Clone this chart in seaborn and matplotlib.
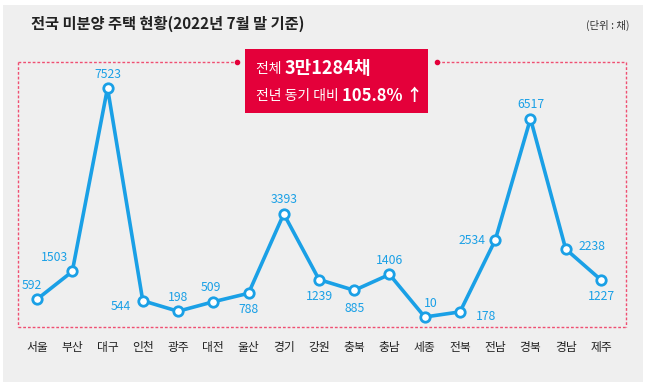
import matplotlib
matplotlib.use("Agg")
import matplotlib.pyplot as plt
import seaborn as sns
import pandas as pd
from matplotlib.patches import Rectangle
from matplotlib.lines import Line2D

# 지역별 미분양 주택 (2022년 7월 말, 단위: 채)
regions = ['서울', '부산', '대구', '인천', '광주', '대전', '울산', '경기', '강원',
           '충북', '충남', '세종', '전북', '전남', '경북', '경남', '제주']
units = [592, 1503, 7523, 544, 198, 509, 788, 3393, 1239,
         885, 1406, 10, 178, 2534, 6517, 2238, 1227]

# label offsets in points (dx, dy) relative to each marker
label_offsets = [(-4, 10), (-13, 10), (0, 10), (-16, -4), (0, 10), (-2, 10), (0, -12),
                 (0, 10), (0, -12), (0, -13), (0, 10), (4, 10), (19, -3),
                 (-17, 0), (0, 10), (19, 2), (0, -12)]

BLUE = '#1aa0e6'
RED = '#e4003a'
PINK = '#ef4f72'
BG = '#efefef'
FONT = ['Noto Sans CJK KR', 'DejaVu Sans']

sns.set_theme(style='white')
plt.rcParams['font.family'] = FONT

W, H = 650, 382
fig = plt.figure(figsize=(W / 100, H / 100), dpi=100, facecolor='white')

def fx(px):
    return px / W

def fy(py):
    return 1 - py / H

# gray panel
fig.patches.append(Rectangle((fx(3), fy(382)), fx(640), 377 / H, transform=fig.transFigure,
                             facecolor=BG, edgecolor='none', zorder=-10))

ax = fig.add_axes([fx(19.4), fy(327), fx(599.2), 264 / H])
ax.set_zorder(1)
ax.set_facecolor('none')
df = pd.DataFrame({'region': regions, 'units': units, 'idx': range(len(regions))})
sns.lineplot(data=df, x='idx', y='units', ax=ax, color=BLUE, linewidth=2.6,
             marker='o', markersize=6.8, markerfacecolor='white',
             markeredgecolor=BLUE, markeredgewidth=2.0)
ax.set_xlim(-0.5, len(regions) - 0.5)
ax.set_ylim(-318, 8343)
for s in ax.spines.values():
    s.set_visible(False)
ax.set_xlabel('')
ax.set_ylabel('')
ax.set_yticks([])
ax.set_xticks(df['idx'])
ax.set_xticklabels(regions, fontsize=8.5, color='#222222')
ax.tick_params(axis='x', length=0, pad=10)

for i, (v, (dx, dy)) in enumerate(zip(units, label_offsets)):
    ax.annotate(str(v), (i, v), xytext=(dx, dy), textcoords='offset points',
                ha='center', va='center', fontsize=8.8, color=BLUE,
                fontstretch='condensed')

# dotted frame with a gap for the red box
dash = dict(color=PINK, linewidth=1.0, linestyle=(0, (2, 1.4)), transform=fig.transFigure)
fig.lines.append(Line2D([fx(18), fx(18)], [fy(62), fy(327)], **dash))
fig.lines.append(Line2D([fx(18), fx(626)], [fy(327), fy(327)], **dash))
fig.lines.append(Line2D([fx(626), fx(626)], [fy(62), fy(327)], **dash))
fig.lines.append(Line2D([fx(18), fx(237)], [fy(62), fy(62)], **dash))
fig.lines.append(Line2D([fx(437), fx(626)], [fy(62), fy(62)], **dash))
for px in (237, 437):
    fig.lines.append(Line2D([fx(px)], [fy(62)], marker='o', markersize=3, color=RED,
                            linestyle='none', transform=fig.transFigure))

# red summary box
fig.patches.append(Rectangle((fx(245), fy(113)), fx(183), 64 / H, transform=fig.transFigure,
                             facecolor=RED, edgecolor='none', zorder=2))

fig.canvas.draw()
renderer = fig.canvas.get_renderer()

def run_text(x_px, y_px, parts):
    x = fx(x_px)
    for s, size, weight in parts:
        t = fig.text(x, fy(y_px), s, fontsize=size, fontweight=weight, color='white',
                     va='center', ha='left', family=FONT, zorder=3)
        bb = t.get_window_extent(renderer)
        x += bb.width / W

run_text(256, 69, [('전체 ', 10, 'normal'), ('3만1284채', 13, 'bold')])
run_text(256, 96, [('전년 동기 대비 ', 10, 'normal'), ('105.8% ↑', 12, 'bold')])

fig.text(fx(31), fy(24), '전국 미분양 주택 현황(2022년 7월 말 기준)', fontsize=11,
         fontweight='bold', color='#222222', va='center', ha='left')
fig.text(fx(630), fy(25), '(단위 : 채)', fontsize=7.5, color='#333333',
         va='center', ha='right')

fig.savefig('out.png', dpi=100, facecolor='white')
